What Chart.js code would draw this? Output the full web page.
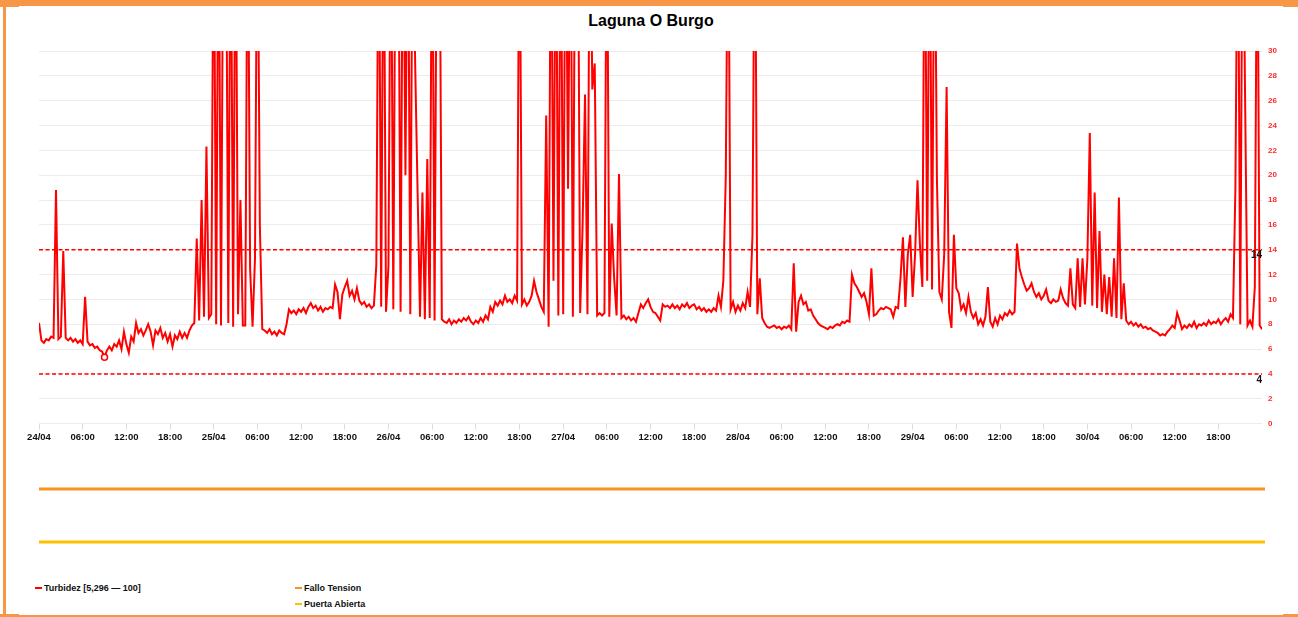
<!DOCTYPE html>
<html>
<head>
<meta charset="utf-8">
<script src="https://cdn.jsdelivr.net/npm/chart.js@4/dist/chart.umd.min.js"></script>
<style>
  html, body { margin: 0; padding: 0; background: #fff; }
  body { width: 1298px; height: 617px; position: relative; overflow: hidden; font-family: Arial, "Liberation Sans", sans-serif; }
  .marco { position: absolute; left: 3px; top: 0; width: 1400px; height: 609px; border-left: 3px solid #f79646; border-top: 6px solid #f79646; border-bottom: 2px solid #f79646; }
  .esquina { position: absolute; background: #f79646; }
  canvas { position: absolute; left: 0; }
  .titulo { position: absolute; left: 0; top: 11px; width: 1302px; text-align: center; font: bold 16px Arial, "Liberation Sans", sans-serif; color: #000; line-height: 19px; }
  .leyenda { position: absolute; font: bold 9px Arial, "Liberation Sans", sans-serif; color: #111; white-space: nowrap; line-height: 11px; }
  .leyenda i { display: inline-block; width: 7px; height: 2px; margin-right: 2px; vertical-align: middle; position: relative; top: -1px; }
</style>
</head>
<body>
<div class="marco"></div>
<div class="esquina" style="left:0;top:0;width:19px;height:7px"></div>
<div class="esquina" style="left:1283px;top:0;width:15px;height:7px"></div>
<div class="esquina" style="left:0;top:614px;width:19px;height:3px"></div>
<div class="esquina" style="left:1283px;top:614px;width:15px;height:3px"></div>

<div class="titulo">Laguna O Burgo</div>
<canvas id="turbidez" width="1298" height="452" style="top:0"></canvas>
<canvas id="fallo" width="1298" height="38" style="top:470px"></canvas>
<canvas id="puerta" width="1298" height="38" style="top:523px"></canvas>

<div class="leyenda" style="left:35px;top:583px"><i style="background:#ff0000"></i>Turbidez [5,296 — 100]</div>
<div class="leyenda" style="left:295px;top:583px"><i style="background:#f7941d"></i>Fallo Tension</div>
<div class="leyenda" style="left:295px;top:599px"><i style="background:#ffc000"></i>Puerta Abierta</div>

<script>
// Turbidez cada 20 minutos desde el 24/04 00:00 (NTU)
const turbidez = [
  8.1, 6.7, 6.5, 6.8, 6.7, 7.0, 6.9, 18.8, 6.8, 7.0, 13.9, 6.9,
  6.7, 6.9, 6.6, 6.8, 6.5, 6.7, 6.4, 10.2, 6.6, 6.3, 6.4, 6.1,
  6.2, 5.9, 5.8, 5.35, 5.9, 6.2, 5.9, 6.4, 6.2, 6.7, 6.0, 7.4,
  6.4, 5.7, 7.0, 6.6, 8.1, 7.3, 7.6, 7.1, 7.5, 8.0, 7.4, 6.3,
  7.5, 7.2, 7.7, 6.9, 7.3, 6.6, 7.2, 6.2, 7.1, 6.8, 7.4, 6.9,
  7.3, 6.9, 7.5, 7.9, 8.1, 14.9, 8.3, 18.0, 8.6, 22.3, 8.5, 8.8,
  // 25/04
  45, 8.0, 45, 7.9, 45, 45, 8.1, 45, 7.8, 45, 8.8, 18.0,
  7.9, 7.9, 45, 12.4, 7.8, 13.3, 45, 16.0, 7.6, 7.5, 7.3, 7.6,
  7.2, 7.4, 7.1, 7.5, 7.3, 7.2, 8.0, 9.2, 8.9, 9.1, 8.8, 9.2,
  9.0, 9.3, 8.9, 9.4, 9.7, 9.3, 9.5, 9.1, 9.4, 9.0, 9.3, 9.2,
  9.4, 9.3, 11.2, 10.6, 8.4, 10.4, 11.0, 11.5, 10.3, 10.7, 10.0, 10.9,
  9.9, 9.6, 9.8, 9.4, 9.6, 9.3, 9.5, 12.8, 45, 9.4, 45, 9.0,
  // 26/04
  12.7, 45, 9.2, 45, 45, 9.0, 45, 20.0, 45, 8.8, 45, 29.0,
  18.7, 8.6, 18.6, 8.4, 21.3, 8.5, 45, 8.3, 45, 45, 8.4, 8.2,
  8.1, 8.4, 8.0, 8.3, 8.1, 8.4, 8.2, 8.5, 8.3, 8.6, 8.2, 8.0,
  8.3, 8.1, 8.5, 8.2, 8.7, 8.4, 9.4, 9.0, 9.8, 9.5, 9.9, 9.6,
  10.3, 9.8, 10.0, 9.7, 10.3, 9.9, 45, 9.6, 10.0, 9.5, 9.8, 10.3,
  11.5, 10.6, 10.0, 9.4, 9.0, 24.8, 7.8, 45, 11.5, 45, 8.7, 45,
  // 27/04
  8.8, 45, 18.9, 45, 8.6, 45, 45, 8.9, 15.9, 26.5, 8.8, 45,
  26.9, 29.0, 8.7, 8.9, 8.7, 8.9, 45, 8.6, 16.1, 11.7, 8.7, 20.1,
  8.5, 8.7, 8.4, 8.6, 8.3, 8.5, 8.2, 8.9, 9.6, 9.3, 9.7, 10.0,
  9.4, 9.0, 8.9, 8.6, 8.3, 9.6, 9.4, 9.5, 9.3, 9.6, 9.3, 9.5,
  9.2, 9.6, 9.4, 9.7, 9.3, 9.5, 9.6, 9.2, 9.4, 9.1, 9.3, 9.0,
  9.2, 9.0, 9.3, 9.1, 10.3, 9.4, 11.5, 19.9, 45, 9.2, 9.8, 9.0,
  // 28/04
  9.5, 9.1, 9.7, 9.3, 10.6, 9.4, 15.2, 45, 8.8, 11.7, 8.5, 8.1,
  7.8, 7.7, 7.8, 7.9, 7.7, 7.8, 7.6, 7.8, 7.7, 7.9, 7.6, 12.9,
  7.4, 9.8, 10.3, 9.6, 9.8, 9.1, 9.2, 8.7, 8.4, 8.1, 7.9, 7.8,
  7.7, 7.6, 7.8, 7.7, 7.9, 8.0, 7.9, 8.2, 8.1, 8.3, 8.2, 12.0,
  11.3, 11.0, 10.6, 10.2, 10.5, 9.8, 8.8, 12.5, 8.7, 8.8, 9.1, 9.3,
  9.2, 9.4, 9.3, 9.2, 8.6, 9.4, 9.3, 11.7, 15.0, 9.4, 13.6, 15.2,
  // 29/04
  10.2, 13.6, 19.6, 14.4, 11.0, 45, 11.5, 45, 10.8, 45, 19.7, 10.6,
  10.0, 13.6, 27.1, 9.0, 7.7, 15.2, 10.9, 10.5, 9.2, 9.6, 8.9, 10.2,
  9.0, 8.5, 8.9, 8.0, 8.4, 7.9, 8.6, 11.0, 8.2, 7.8, 8.5, 8.0,
  8.7, 8.4, 8.9, 8.7, 9.1, 8.8, 9.0, 14.5, 12.5, 11.8, 11.2, 10.7,
  10.9, 11.3, 10.6, 10.2, 10.5, 10.0, 10.3, 10.8, 9.9, 9.7, 10.0, 9.8,
  9.9, 10.8, 10.1, 9.7, 9.5, 12.5, 9.6, 9.3, 13.3, 9.4, 13.3, 9.6,
  // 30/04
  13.3, 23.4, 9.5, 18.6, 9.3, 15.5, 9.0, 12.0, 8.8, 11.8, 8.6, 13.3,
  8.5, 18.2, 8.4, 11.3, 8.3, 8.0, 8.2, 7.9, 8.1, 7.8, 8.0, 7.7,
  7.8, 7.6, 7.7, 7.5, 7.4, 7.3, 7.1, 7.2, 7.1, 7.4, 7.6, 7.9,
  7.7, 8.9, 8.3, 7.6, 7.9, 7.7, 8.0, 7.8, 8.2, 7.7, 8.0, 7.9,
  8.1, 7.9, 8.3, 8.0, 8.2, 8.1, 8.4, 8.0, 8.3, 8.5, 8.2, 8.8,
  8.5, 19.0, 45, 8.0, 45, 26.1, 7.9, 8.3, 7.8, 11.0, 45, 7.9, 7.6
];
const pasoHoras = 1 / 3;
const horasTotales = 168;

const umbrales = [14, 4];

const etiquetasX = ['24/04', '06:00', '12:00', '18:00', '25/04', '06:00', '12:00', '18:00',
  '26/04', '06:00', '12:00', '18:00', '27/04', '06:00', '12:00', '18:00',
  '28/04', '06:00', '12:00', '18:00', '29/04', '06:00', '12:00', '18:00',
  '30/04', '06:00', '12:00', '18:00'];

// estados digitales (0 = sin alarma)
const horasEstado = [0, 168];
const falloTension = [0, 0];
const puertaAbierta = [0, 0];

const puntos = turbidez.map((v, i) => ({ x: i * pasoHoras, y: v }));
const indiceMin = turbidez.indexOf(Math.min(...turbidez));

const fuente = 'Arial, "Liberation Sans", sans-serif';

const etiquetasUmbral = {
  id: 'etiquetasUmbral',
  afterDatasetsDraw(chart) {
    const { ctx, chartArea, scales } = chart;
    ctx.save();
    ctx.font = 'bold 10px ' + fuente;
    ctx.fillStyle = '#111';
    ctx.textAlign = 'right';
    ctx.textBaseline = 'middle';
    umbrales.forEach(u => {
      ctx.fillText(String(u), chartArea.right, scales.y.getPixelForValue(u) + 6);
    });
    ctx.restore();
  }
};

new Chart(document.getElementById('turbidez'), {
  type: 'line',
  data: {
    datasets: [
      {
        label: 'Turbidez',
        data: puntos,
        borderColor: '#ff0000',
        borderWidth: 2,
        tension: 0,
        pointRadius: c => c.dataIndex === indiceMin ? 3 : 0,
        pointBackgroundColor: '#ffffff',
        pointBorderColor: '#ff0000',
        pointBorderWidth: 1.5,
        order: 2
      },
      ...umbrales.map(u => ({
        label: 'Umbral ' + u,
        data: [{ x: 0, y: u }, { x: horasTotales, y: u }],
        borderColor: '#ff0000',
        borderWidth: 1.5,
        borderDash: [4, 2.5],
        pointRadius: 0,
        order: 1
      }))
    ]
  },
  options: {
    responsive: false,
    animation: false,
    events: [],
    layout: { padding: { left: 39, right: 15, top: 51, bottom: 7 } },
    plugins: {
      legend: { display: false },
      tooltip: { enabled: false },
      title: { display: false }
    },
    scales: {
      x: {
        type: 'linear',
        min: 0,
        max: horasTotales,
        afterBuildTicks: s => { s.ticks = s.ticks.filter(t => t.value < horasTotales); },
        ticks: {
          stepSize: 6,
          autoSkip: false,
          maxRotation: 0,
          padding: 2,
          color: '#111',
          font: { family: fuente, size: 9.5, weight: 'bold' },
          callback: v => etiquetasX[v / 6] ?? ''
        },
        grid: { drawOnChartArea: false, drawTicks: true, tickLength: 6, color: '#dddddd' },
        border: { display: false }
      },
      y: {
        position: 'right',
        min: 0,
        max: 30,
        ticks: {
          stepSize: 2,
          padding: 6,
          color: '#ff2a2a',
          font: { family: fuente, size: 8, weight: 'bold' }
        },
        grid: { color: '#ececec', drawTicks: false },
        border: { display: false }
      }
    }
  },
  plugins: [etiquetasUmbral]
});

function carril(id, valores, color) {
  new Chart(document.getElementById(id), {
    type: 'line',
    data: {
      datasets: [{
        label: id,
        data: horasEstado.map((h, i) => ({ x: h, y: valores[i] })),
        borderColor: color,
        borderWidth: 3,
        pointRadius: 0
      }]
    },
    options: {
      responsive: false,
      animation: false,
      events: [],
      layout: { padding: { left: 39, right: 33 } },
      plugins: { legend: { display: false }, tooltip: { enabled: false } },
      scales: {
        x: { type: 'linear', min: 0, max: horasTotales, display: false },
        y: { min: -1, max: 1, display: false }
      }
    }
  });
}

carril('fallo', falloTension, '#f7941d');
carril('puerta', puertaAbierta, '#ffc000');
</script>
</body>
</html>
